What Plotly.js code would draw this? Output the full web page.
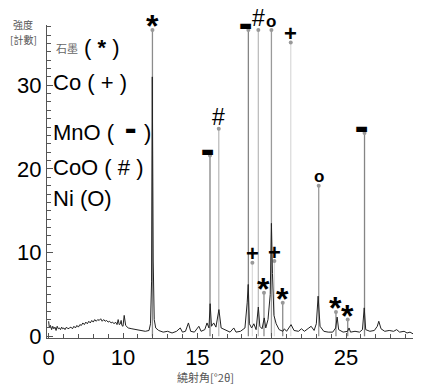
<!DOCTYPE html>
<html>
<head>
<meta charset="utf-8">
<script src="https://cdn.plot.ly/plotly-3.0.1.min.js"></script>
<style>html,body{margin:0;padding:0;background:#fff;}#chart{width:423px;height:386px;}</style>
</head>
<body>
<div id="chart"></div>
<script>
// ---- data (2θ in degrees, intensity in counts) ----
const scan2theta = [0.0,0.1,0.25,0.4,0.55,0.7,0.85,1.0,1.15,1.3,1.45,1.6,1.75,1.9,2.05,2.2,2.4,2.6,2.8,3.0,3.2,3.4,3.6,3.8,4.0,4.2,4.4,4.6,4.8,5.0,5.2,5.4,5.6,5.8,6.0,6.2,6.4,6.6,6.8,7.0,7.2,7.4,7.6,7.8,8.0,8.2,8.4,8.6,8.8,9.0,9.2,9.35,9.5,9.65,9.75,9.85,10.0,10.08,10.18,10.35,10.6,10.9,11.2,11.5,11.75,11.85,11.92,11.97,12.03,12.1,12.2,12.4,12.7,13.0,13.3,13.6,13.85,14.0,14.2,14.4,14.55,14.8,15.1,15.25,15.5,15.65,15.78,15.86,15.95,16.1,16.25,16.45,16.6,16.8,17.0,17.2,17.45,17.6,17.9,18.2,18.35,18.42,18.5,18.65,18.8,18.95,19.1,19.2,19.35,19.5,19.6,19.75,19.9,19.98,20.05,20.15,20.3,20.5,20.75,20.85,21.0,21.3,21.5,21.8,22.0,22.2,22.5,22.65,22.85,23.0,23.12,23.25,23.5,23.8,24.1,24.3,24.4,24.5,24.8,25.1,25.2,25.3,25.6,25.9,26.1,26.22,26.32,26.6,26.9,27.1,27.2,27.35,27.6,27.9,28.2,28.4,28.6,28.9,29.1,29.3,29.5];
const scanCounts = [1.8,1.0,1.3,0.8,1.2,0.9,1.1,0.7,1.2,0.9,1.0,0.8,1.1,0.9,1.0,0.8,1.1,0.9,1.0,1.1,0.9,1.2,1.0,1.3,1.1,1.4,1.3,1.6,1.4,1.7,1.5,1.8,1.6,1.9,1.7,2.0,1.8,2.0,1.9,2.1,1.8,2.0,1.8,1.9,1.7,1.8,1.6,1.7,1.5,1.7,1.4,2.0,1.4,1.5,1.9,1.3,1.2,2.5,1.3,1.0,0.9,0.8,0.7,0.6,0.7,1.5,6.5,31.0,9.0,2.0,1.0,0.7,0.5,0.6,0.4,0.6,1.0,0.5,0.6,1.6,0.6,0.5,1.2,0.6,0.8,1.6,1.0,3.9,1.2,1.6,1.1,3.2,1.0,0.8,0.6,0.5,1.0,0.5,0.6,1.0,4.0,6.2,1.5,1.0,1.5,0.8,3.5,1.2,0.9,2.2,1.0,2.0,5.0,13.5,7.5,2.5,1.5,0.8,0.6,0.9,0.6,1.4,0.7,0.6,0.9,0.6,1.0,1.2,0.7,1.5,4.8,1.2,0.6,0.5,0.5,1.0,2.3,0.8,0.5,0.6,1.0,0.5,0.6,0.5,0.8,3.4,0.8,0.6,0.7,1.2,1.8,0.9,0.6,0.7,0.6,0.8,0.5,0.6,0.4,0.5,0.3];

// reference phase lines: positions (°2θ) and heights (counts)
const graphitePos = [11.98,19.48,20.74,24.32,25.11];
const graphiteH   = [36.6,5.2,4.0,2.9,2.0];
const coPos = [18.70,20.18,21.28];
const coH   = [8.8,9.0,35.1];
const mnoPos = [15.85,18.43,26.24];
const mnoH   = [21.6,36.6,24.3];
const cooPos = [16.44,19.10];
const cooH   = [24.8,36.6];
const niPos = [19.98,23.16];
const niH   = [36.6,18.0];

const xTickVals = [0,10,15,20,25];
const xTickText = ['0','10','15','20','25'];
const yTickVals = [0,10,20,30];

// ---- axis mapping: 0–10° is drawn at half scale, as in the original ----
const axisX = t => (t < 10 ? 5 + t / 2 : t);

const phases = [
  {pos: graphitePos, h: graphiteH, color: '#8c8c8c', sym: '*',  size: 32, bold: true,  off: 4,  dx: 0,  fam: 'Liberation Sans'},
  {pos: mnoPos,      h: mnoH,      color: '#858585', sym: '▬',  size: 14, bold: false, off: 5,  dx: -3, fam: 'DejaVu Sans'},
  {pos: cooPos,      h: cooH,      color: '#bdbdbd', sym: '#',  size: 23, bold: false, off: 12, dx: 0,  fam: 'Liberation Sans'},
  {pos: niPos,       h: niH,       color: '#9a9a9a', sym: 'o',  size: 17, bold: true,  off: 9,  dx: 0,  fam: 'Liberation Sans'},
  {pos: coPos,       h: coH,       color: '#dcdcdc', sym: '+',  size: 22, bold: true,  off: 9,  dx: 0,  fam: 'Liberation Sans'}
];

const traces = [];
const annotations = [];
phases.forEach(p => {
  const xs = [], ys = [];
  p.pos.forEach((t, i) => { xs.push(axisX(t), axisX(t), null); ys.push(0, p.h[i], null); });
  traces.push({x: xs, y: ys, mode: 'lines', line: {color: p.color, width: 1.3}, hoverinfo: 'skip', showlegend: false});
  traces.push({x: p.pos.map(axisX), y: p.h, mode: 'markers', marker: {color: '#999', size: 4}, hoverinfo: 'skip', showlegend: false});
  p.pos.forEach((t, i) => {
    annotations.push({x: axisX(t), y: p.h[i], xref: 'x', yref: 'y', text: p.bold ? '<b>' + p.sym + '</b>' : p.sym,
      showarrow: false, xanchor: 'center', yanchor: 'middle', yshift: p.off, xshift: p.dx,
      font: {family: p.fam, size: p.size, color: '#000'}});
  });
});
traces.push({x: scan2theta.map(axisX), y: scanCounts, mode: 'lines', line: {color: '#222', width: 1}, hoverinfo: 'skip', showlegend: false});

// ---- text labels (positions in pixels of plot area) ----
const L = 47, R = 413, T = 25, B = 338;
const px = v => (v - L) / (R - L);
const py = v => (B - v) / (B - T);
const big = {family: 'Liberation Sans', size: 22, color: '#000'};
annotations.push(
  {xref: 'paper', yref: 'paper', x: px(54), y: py(48), xanchor: 'left', yanchor: 'middle', showarrow: false, text: '石墨', font: {family: 'Noto Sans CJK TC', size: 11, color: '#666'}},
  {xref: 'paper', yref: 'paper', x: px(82), y: py(48), xanchor: 'left', yanchor: 'middle', showarrow: false, text: '( <b>*</b> )', font: big},
  {xref: 'paper', yref: 'paper', x: px(51), y: py(82), xanchor: 'left', yanchor: 'middle', showarrow: false, text: 'Co ( + )', font: big},
  {xref: 'paper', yref: 'paper', x: px(51), y: py(132), xanchor: 'left', yanchor: 'middle', showarrow: false, text: 'MnO (', font: big},
  {xref: 'paper', yref: 'paper', x: px(130), y: py(130), xanchor: 'center', yanchor: 'middle', showarrow: false, text: '▬', font: {family: 'DejaVu Sans', size: 12, color: '#000'}},
  {xref: 'paper', yref: 'paper', x: px(142), y: py(132), xanchor: 'left', yanchor: 'middle', showarrow: false, text: ')', font: big},
  {xref: 'paper', yref: 'paper', x: px(51), y: py(167), xanchor: 'left', yanchor: 'middle', showarrow: false, text: 'CoO ( # )', font: big},
  {xref: 'paper', yref: 'paper', x: px(51), y: py(198), xanchor: 'left', yanchor: 'middle', showarrow: false, text: 'Ni (O)', font: big},
  {xref: 'paper', yref: 'paper', x: px(23), y: py(24), xanchor: 'center', yanchor: 'middle', showarrow: false, text: '強度', font: {family: 'Noto Sans CJK TC', size: 10, color: '#555'}},
  {xref: 'paper', yref: 'paper', x: px(23), y: py(39.5), xanchor: 'center', yanchor: 'middle', showarrow: false, text: '[計數]', font: {family: 'Noto Sans CJK TC', size: 10, color: '#555'}},
  {xref: 'paper', yref: 'paper', x: px(205), y: py(377), xanchor: 'center', yanchor: 'middle', showarrow: false, text: '繞射角[°2θ]', font: {family: 'Noto Sans CJK TC', size: 11, color: '#555'}}
);

const layout = {
  width: 423, height: 386,
  margin: {l: L, r: 423 - R, t: T, b: 386 - B},
  paper_bgcolor: '#fff', plot_bgcolor: '#fff',
  showlegend: false,
  xaxis: {
    range: [4.89, 29.5], tickmode: 'array', tickvals: xTickVals.map(axisX), ticktext: xTickText,
    ticks: 'inside', ticklen: 5, tickcolor: '#555', showline: true, linecolor: '#555', linewidth: 1,
    showgrid: false, zeroline: false, tickfont: {family: 'Liberation Sans', size: 22, color: '#000'},
    minor: {tickmode: 'linear', tick0: 5, dtick: 1, ticks: 'inside', ticklen: 4, tickcolor: '#555'}
  },
  yaxis: {
    range: [-0.2, 37.2], tickmode: 'array', tickvals: yTickVals,
    ticks: 'inside', ticklen: 6, tickcolor: '#555', showline: true, linecolor: '#555', linewidth: 1,
    showgrid: false, zeroline: false, tickfont: {family: 'Liberation Sans', size: 22, color: '#000'},
    minor: {tickmode: 'linear', tick0: 0, dtick: 1, ticks: 'inside', ticklen: 4, tickcolor: '#555'}
  },
  annotations: annotations
};

Plotly.newPlot('chart', traces, layout, {staticPlot: true, displayModeBar: false});
</script>
</body>
</html>
